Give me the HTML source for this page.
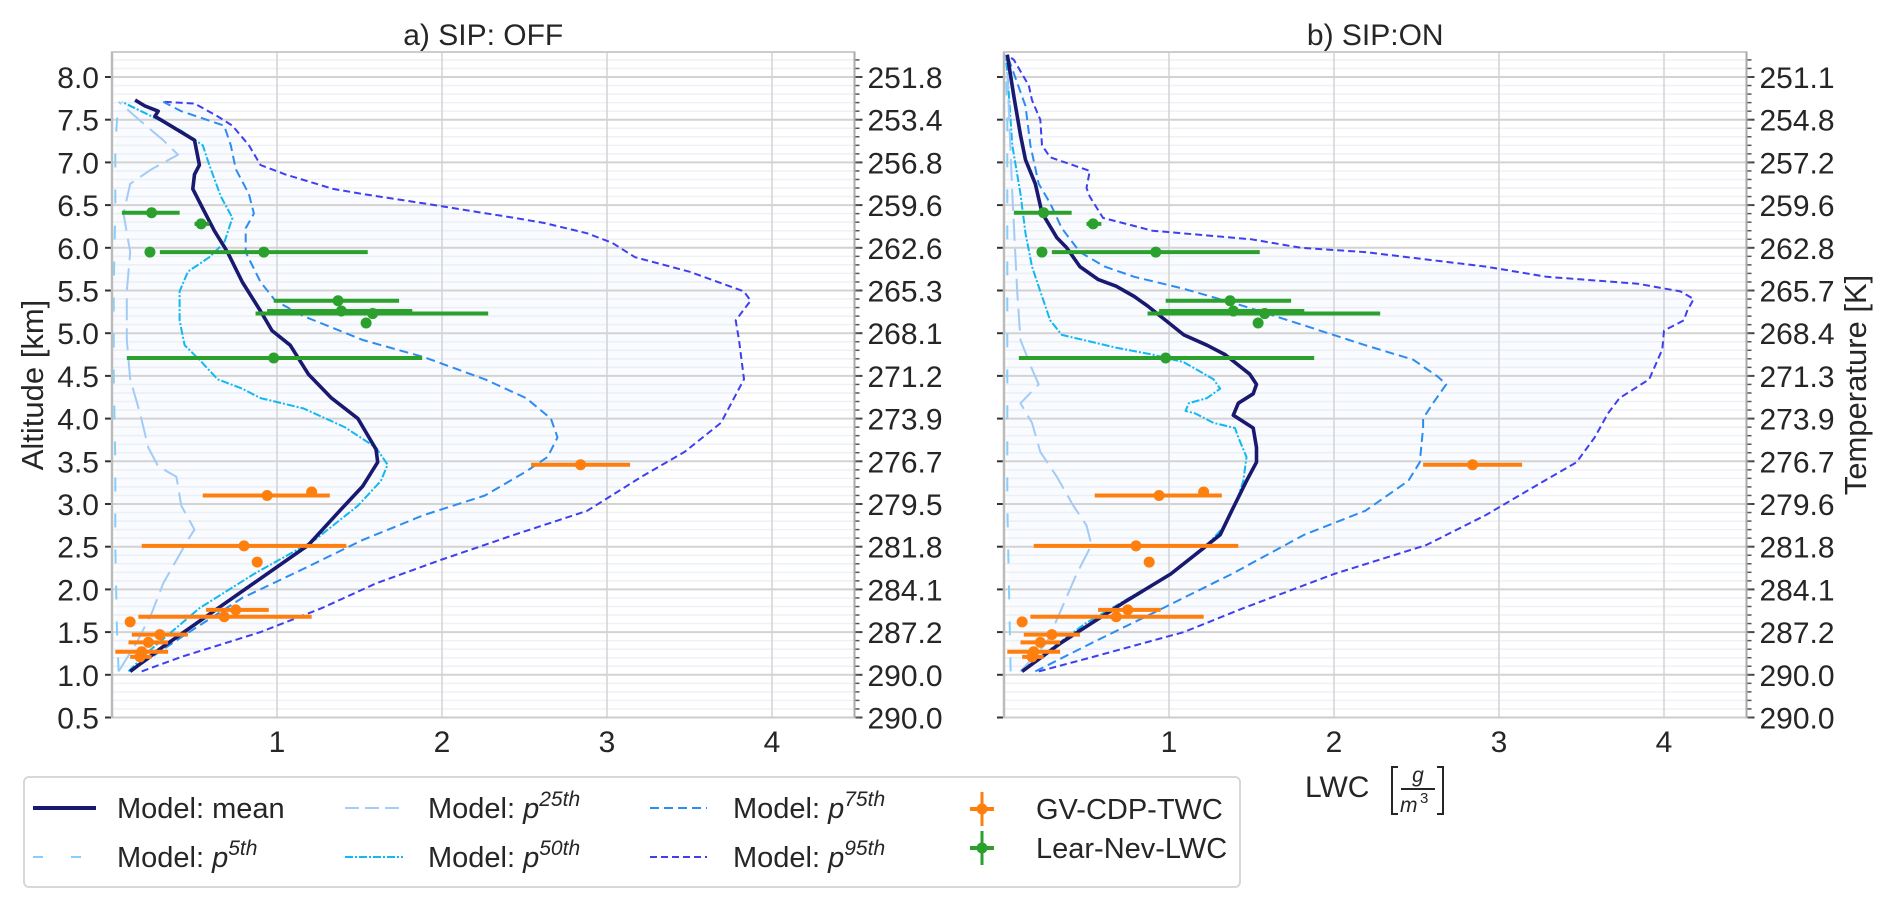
<!DOCTYPE html>
<html><head><meta charset="utf-8">
<style>
html,body{margin:0;padding:0;background:#fff;}
svg{display:block;font-family:"Liberation Sans",Arial,sans-serif;}
</style></head>
<body>
<svg id="chart" width="1892" height="909" viewBox="0 0 1892 909" xmlns="http://www.w3.org/2000/svg"></svg>
<script>
// ---------- data ----------
const yTicks=[8.0,7.5,7.0,6.5,6.0,5.5,5.0,4.5,4.0,3.5,3.0,2.5,2.0,1.5,1.0,0.5];
const yTickLabels=["8.0","7.5","7.0","6.5","6.0","5.5","5.0","4.5","4.0","3.5","3.0","2.5","2.0","1.5","1.0","0.5"];
const tempLabelsOff=["251.8","253.4","256.8","259.6","262.6","265.3","268.1","271.2","273.9","276.7","279.5","281.8","284.1","287.2","290.0","290.0"];
const tempLabelsOn=["251.1","254.8","257.2","259.6","262.8","265.7","268.4","271.3","273.9","276.7","279.6","281.8","284.1","287.2","290.0","290.0"];
const xTicks=[1,2,3,4];
const xTickLabels=["1","2","3","4"];

// [altitude km, LWC]
const offMean=[[1.04,0.11],[1.33,0.31],[2.52,1.19],[2.92,1.38],[3.21,1.52],[3.49,1.61],[3.64,1.6],[4.0,1.49],[4.24,1.33],[4.52,1.19],[4.86,1.08],[5.03,0.97],[5.26,0.9],[5.6,0.79],[5.95,0.7],[6.2,0.62],[6.46,0.55],[6.69,0.49],[6.86,0.5],[6.97,0.53],[7.26,0.5],[7.4,0.38],[7.54,0.26],[7.6,0.28],[7.66,0.2],[7.73,0.14]];
const offP5=[[1.04,0.04],[1.5,0.03],[2.5,0.02],[3.5,0.02],[4.5,0.01],[5.5,0.01],[6.5,0.02],[7.2,0.02],[7.5,0.03],[7.71,0.04]];
const offP25=[[1.04,0.04],[1.38,0.15],[1.72,0.24],[2.07,0.31],[2.58,0.46],[2.7,0.5],[2.98,0.42],[3.32,0.39],[3.44,0.28],[3.66,0.22],[4.06,0.17],[4.46,0.11],[4.92,0.09],[5.49,0.09],[5.95,0.11],[6.4,0.07],[6.75,0.11],[6.92,0.24],[7.09,0.4],[7.26,0.31],[7.49,0.17],[7.71,0.04]];
const offP50=[[1.04,0.1],[1.27,0.22],[1.78,0.53],[2.18,0.86],[2.58,1.23],[2.98,1.49],[3.27,1.63],[3.46,1.67],[3.66,1.6],[3.9,1.41],[4.12,1.16],[4.24,0.9],[4.35,0.79],[4.46,0.64],[4.69,0.53],[4.86,0.44],[5.15,0.41],[5.49,0.41],[5.72,0.46],[5.89,0.59],[6.06,0.68],[6.35,0.73],[6.6,0.66],[6.97,0.59],[7.2,0.55],[7.37,0.42],[7.54,0.24],[7.71,0.06]];
const offP75=[[1.04,0.11],[1.44,0.42],[1.9,0.79],[2.24,1.16],[2.58,1.52],[2.87,1.89],[3.1,2.26],[3.38,2.51],[3.55,2.64],[3.78,2.7],[4.0,2.66],[4.24,2.51],[4.46,2.26],[4.72,1.89],[4.92,1.52],[5.2,1.16],[5.38,0.99],[5.6,0.9],[5.95,0.81],[6.23,0.81],[6.4,0.86],[6.63,0.83],[6.92,0.75],[7.2,0.72],[7.43,0.68],[7.6,0.42],[7.71,0.31]];
const offP95=[[1.04,0.18],[1.21,0.42],[1.5,0.9],[1.78,1.27],[2.07,1.6],[2.35,2.0],[2.64,2.44],[2.92,2.88],[3.32,3.21],[3.61,3.47],[3.95,3.69],[4.46,3.83],[4.92,3.8],[5.15,3.78],[5.38,3.87],[5.49,3.83],[5.72,3.5],[5.89,3.17],[6.06,3.03],[6.17,2.88],[6.29,2.62],[6.35,2.44],[6.52,1.89],[6.63,1.52],[6.69,1.34],[6.86,1.05],[6.97,0.9],[7.2,0.83],[7.43,0.73],[7.54,0.64],[7.69,0.5],[7.71,0.31]];

const onMean=[[1.04,0.11],[1.38,0.35],[1.84,0.72],[2.18,1.01],[2.47,1.2],[2.64,1.31],[2.92,1.38],[3.27,1.47],[3.49,1.53],[3.66,1.53],[3.89,1.51],[4.04,1.39],[4.18,1.42],[4.29,1.51],[4.4,1.53],[4.52,1.49],[4.75,1.34],[4.86,1.23],[4.98,1.09],[5.15,0.98],[5.32,0.87],[5.43,0.79],[5.55,0.68],[5.63,0.57],[5.78,0.46],[6.0,0.38],[6.12,0.32],[6.41,0.23],[6.75,0.19],[7.03,0.13],[7.32,0.1],[7.77,0.06],[8.26,0.02]];
const onP5=[[1.04,0.04],[2.0,0.03],[3.0,0.02],[4.5,0.02],[6.0,0.02],[7.5,0.02],[8.26,0.01]];
const onP25=[[1.04,0.1],[1.38,0.26],[1.78,0.35],[2.18,0.44],[2.52,0.53],[2.75,0.5],[2.98,0.42],[3.32,0.32],[3.61,0.22],[3.95,0.17],[4.18,0.1],[4.4,0.21],[4.58,0.17],[4.92,0.1],[5.49,0.08],[6.63,0.05],[8.06,0.02]];
const onP50=[[1.04,0.1],[1.61,0.5],[2.18,1.01],[2.52,1.23],[2.75,1.34],[3.09,1.42],[3.27,1.45],[3.55,1.47],[3.78,1.42],[3.89,1.4],[3.95,1.27],[4.06,1.16],[4.09,1.1],[4.18,1.12],[4.24,1.23],[4.35,1.31],[4.46,1.27],[4.66,1.09],[4.75,0.9],[4.83,0.68],[4.98,0.35],[5.15,0.28],[5.49,0.22],[5.78,0.17],[6.17,0.13],[6.63,0.1],[7.2,0.05],[8.06,0.02],[8.26,0.01]];
const onP75=[[1.04,0.19],[1.38,0.54],[1.72,0.9],[2.18,1.38],[2.64,1.82],[2.92,2.19],[3.27,2.45],[3.49,2.52],[3.89,2.54],[4.0,2.54],[4.18,2.6],[4.4,2.68],[4.49,2.63],[4.69,2.48],[4.86,2.19],[5.09,1.82],[5.32,1.45],[5.52,1.09],[5.66,0.79],[5.78,0.61],[5.95,0.46],[6.23,0.35],[6.52,0.28],[6.75,0.21],[7.2,0.16],[7.66,0.13],[8.2,0.03],[8.26,0.02]];
const onP95=[[1.04,0.21],[1.21,0.54],[1.5,1.09],[1.78,1.45],[2.18,2.0],[2.52,2.56],[2.87,2.92],[3.21,3.22],[3.49,3.47],[3.78,3.58],[4.06,3.66],[4.24,3.73],[4.46,3.91],[4.81,3.99],[5.03,4.0],[5.15,4.12],[5.26,4.14],[5.4,4.18],[5.49,4.1],[5.58,3.84],[5.66,3.29],[5.78,2.92],[5.95,2.19],[6.0,1.8],[6.1,1.5],[6.2,0.9],[6.35,0.6],[6.6,0.52],[6.7,0.5],[6.9,0.52],[7.06,0.28],[7.2,0.23],[7.5,0.22],[7.73,0.17],[7.9,0.15],[8.2,0.06],[8.26,0.02]];

// observations: [altitude, lwc, errLo, errHi] (err null -> no bar)
const gvCdpTwc=[[3.46,2.84,2.54,3.14],[3.1,0.94,0.55,1.32],[3.14,1.21,null,null],[2.51,0.8,0.18,1.42],[2.32,0.88,null,null],[1.76,0.75,0.57,0.95],[1.68,0.68,0.16,1.21],[1.62,0.11,null,null],[1.47,0.29,0.12,0.46],[1.38,0.22,0.1,0.34],[1.27,0.18,0.02,0.34],[1.21,0.17,0.11,0.24]];
const learNevLwc=[[6.41,0.24,0.06,0.41],[6.28,0.54,0.5,0.59],[5.95,0.23,null,null],[5.95,0.92,0.29,1.55],[5.38,1.37,0.98,1.74],[5.26,1.39,0.94,1.82],[5.23,1.58,0.87,2.28],[5.12,1.54,null,null],[4.71,0.98,0.09,1.88]];

// ---------- drawing ----------
const NS="http://www.w3.org/2000/svg";
const svg=document.getElementById('chart');
function mk(tag,attrs,parent){const e=document.createElementNS(NS,tag);for(const k in attrs)e.setAttribute(k,attrs[k]);(parent||svg).appendChild(e);return e;}
const Y0=77, YK=85.4;
function yS(a){return Y0+(8-a)*YK;}
const TOP=52, BOT=yS(0.5);
const TXT="#262626";

const series=[
 {key:'mean',color:'#191970',w:3.6,dash:''},
 {key:'p5',color:'#87cefa',w:2,dash:'14 22'},
 {key:'p25',color:'#a3cbf5',w:2,dash:'22 8'},
 {key:'p50',color:'#12b8f0',w:2,dash:'8 2 2 2'},
 {key:'p75',color:'#2d8cf0',w:2,dash:'9 5'},
 {key:'p95',color:'#3f3ff0',w:2,dash:'7 4'}
];

function panel(id,x0,title,tempLabels,data){
  const unit=165;
  const xS=v=>x0+v*unit;
  const R=xS(4.5);
  const g=mk('g',{});
  
  
  for(let i=5;i<=83;i++){const a=i/10;const y=yS(a);if(y<TOP)continue;
    const l=mk('line',{x1:x0,x2:R,y1:y,y2:y,stroke:'#eef1f6','stroke-width':1.5},g);
    
    }
  const fillPts=data.p95.map(p=>xS(p[1])+','+yS(p[0])).concat(data.p5.slice().reverse().map(p=>xS(p[1])+','+yS(p[0])));
  const fp=mk('polygon',{points:fillPts.join(' '),fill:'#dde9f7','fill-opacity':0.18},g);
  
  
  yTicks.forEach((t,i)=>{const y=yS(t);
    const l=mk('line',{x1:x0,x2:R,y1:y,y2:y,stroke:'#d3d3d3','stroke-width':2},g);
    
    
    const tk=mk('line',{x1:x0-7,x2:x0,y1:y,y2:y,stroke:'#333','stroke-width':2},g);
    
    
    const tr=mk('line',{x1:R,x2:R+8,y1:y,y2:y,stroke:'#444','stroke-width':2},g);
    
    
    const tl=mk('text',{x:R+13,y:y+11,'font-size':30,fill:TXT},g);
    tl.textContent=tempLabels[i];
    
    
    if(id==='panel-sip-off'){
      const lt=mk('text',{x:x0-13,y:y+11,'font-size':30,fill:TXT,'text-anchor':'end'},g);
      lt.textContent=yTickLabels[i];
      
      
    }
  });
  for(let i=5;i<=83;i++){const y=yS(i/10);if(y<TOP)continue;
    const m=mk('line',{x1:R,x2:R+5,y1:y,y2:y,stroke:'#555','stroke-width':1.5},g);
    
    }
  xTicks.forEach((t,i)=>{const x=xS(t);
    const l=mk('line',{x1:x,x2:x,y1:TOP,y2:BOT,stroke:'#d3d3d3','stroke-width':1.5},g);
    
    
    const tx=mk('text',{x:x,y:752,'font-size':30,fill:TXT,'text-anchor':'middle'},g);
    tx.textContent=xTickLabels[i];
    
    
  });
  series.slice().reverse().forEach(s=>{
    const pts=data[s.key].map(p=>xS(p[1]).toFixed(1)+','+yS(p[0]).toFixed(1)).join(' ');
    const pl=mk('polyline',{points:pts,fill:'none',stroke:s.color,'stroke-width':s.w,'stroke-dasharray':s.dash,'stroke-linejoin':'round'},g);
    
    
  });
  [[gvCdpTwc,'#ff7f0e','gv-cdp-twc'],[learNevLwc,'#2ca02c','lear-nev-lwc']].forEach(([arr,c,nm])=>{
    arr.forEach(o=>{
      const y=yS(o[0]);
      if(o[2]!==null){
        const b=mk('line',{x1:xS(o[2]),x2:xS(o[3]),y1:y,y2:y,stroke:c,'stroke-width':4},g);
        
        
      }
      const d=mk('circle',{cx:xS(o[1]),cy:y,r:5.5,fill:c},g);
      
      
    });
  });
  const sp=mk('rect',{x:x0,y:TOP,width:R-x0,height:BOT-TOP,fill:'none',stroke:'#cccccc','stroke-width':2},g);
  
  
  const ls=mk('line',{x1:x0,x2:x0,y1:TOP,y2:BOT,stroke:'#bbbbbb','stroke-width':2.5},g);
  
  
  const rs=mk('line',{x1:R,x2:R,y1:TOP,y2:BOT,stroke:'#aaaaaa','stroke-width':2},g);
  
  
  const tt=mk('text',{x:(x0+R)/2,y:45,'font-size':30,fill:TXT,'text-anchor':'middle'},g);
  tt.textContent=title;
  
  
}
panel('panel-sip-off',112,'a) SIP: OFF',tempLabelsOff,{mean:offMean,p5:offP5,p25:offP25,p50:offP50,p75:offP75,p95:offP95});
panel('panel-sip-on',1004,'b) SIP:ON',tempLabelsOn,{mean:onMean,p5:onP5,p25:onP25,p50:onP50,p75:onP75,p95:onP95});
</script>
<script>
(function(){
  const s=document.getElementById('chart');
  s.insertAdjacentHTML('beforeend',`
  <text transform="translate(43,385) rotate(-90)" text-anchor="middle" font-size="31" fill="#262626">Altitude [km]</text>
  <text transform="translate(1866,385) rotate(-90)" text-anchor="middle" font-size="31" fill="#262626">Temperature [K]</text>
  <g>
    <text x="1305" y="797" font-size="30" fill="#262626">LWC</text>
    <path d="M1398,767 h-6 v47 h6 M1437,767 h6 v47 h-6" fill="none" stroke="#262626" stroke-width="2"/>
    <text x="1418" y="782" font-size="21" font-style="italic" fill="#262626" text-anchor="middle">g</text>
    <line x1="1401" x2="1435" y1="789" y2="789" stroke="#262626" stroke-width="2"/>
    <text x="1400" y="812" font-size="21" font-style="italic" fill="#262626">m</text>
    <text x="1420" y="803" font-size="15" fill="#262626">3</text>
  </g>
  <g>
    <rect x="24" y="777" width="1216" height="110" rx="5" fill="#fff" stroke="#d8d8d8" stroke-width="2"/>
    <g>
      <line x1="33" x2="96" y1="808" y2="808" stroke="#191970" stroke-width="4"/>
      <text x="117" y="818" font-size="29" fill="#262626">Model: mean</text></g>
    <g>
      <line x1="33" x2="96" y1="857" y2="857" stroke="#87cefa" stroke-width="2" stroke-dasharray="10 28"/>
      <text x="117" y="867" font-size="29" fill="#262626">Model: <tspan font-style="italic">p</tspan><tspan dy="-12" font-size="21" font-style="italic">5th</tspan></text></g>
    <g>
      <line x1="345" x2="403" y1="808" y2="808" stroke="#a3cbf5" stroke-width="2" stroke-dasharray="14 6"/>
      <text x="428" y="818" font-size="29" fill="#262626">Model: <tspan font-style="italic">p</tspan><tspan dy="-12" font-size="21" font-style="italic">25th</tspan></text></g>
    <g>
      <line x1="345" x2="403" y1="857" y2="857" stroke="#12b8f0" stroke-width="2" stroke-dasharray="8 2 2 2"/>
      <text x="428" y="867" font-size="29" fill="#262626">Model: <tspan font-style="italic">p</tspan><tspan dy="-12" font-size="21" font-style="italic">50th</tspan></text></g>
    <g>
      <line x1="650" x2="707" y1="808" y2="808" stroke="#2d8cf0" stroke-width="2" stroke-dasharray="9 5"/>
      <text x="733" y="818" font-size="29" fill="#262626">Model: <tspan font-style="italic">p</tspan><tspan dy="-12" font-size="21" font-style="italic">75th</tspan></text></g>
    <g>
      <line x1="650" x2="707" y1="857" y2="857" stroke="#3f3ff0" stroke-width="2" stroke-dasharray="7 4"/>
      <text x="733" y="867" font-size="29" fill="#262626">Model: <tspan font-style="italic">p</tspan><tspan dy="-12" font-size="21" font-style="italic">95th</tspan></text></g>
    <g>
      <line x1="970" x2="994" y1="809" y2="809" stroke="#ff7f0e" stroke-width="4"/>
      <line x1="982" x2="982" y1="792" y2="826" stroke="#ff7f0e" stroke-width="3"/>
      <circle cx="982" cy="809" r="5.5" fill="#ff7f0e"/>
      <text x="1036" y="819" font-size="29" fill="#262626">GV-CDP-TWC</text></g>
    <g>
      <line x1="970" x2="994" y1="848" y2="848" stroke="#2ca02c" stroke-width="4"/>
      <line x1="982" x2="982" y1="831" y2="865" stroke="#2ca02c" stroke-width="3"/>
      <circle cx="982" cy="848" r="5.5" fill="#2ca02c"/>
      <text x="1036" y="858" font-size="29" fill="#262626">Lear-Nev-LWC</text></g>
  </g>`);
})();
</script>
</body></html>
